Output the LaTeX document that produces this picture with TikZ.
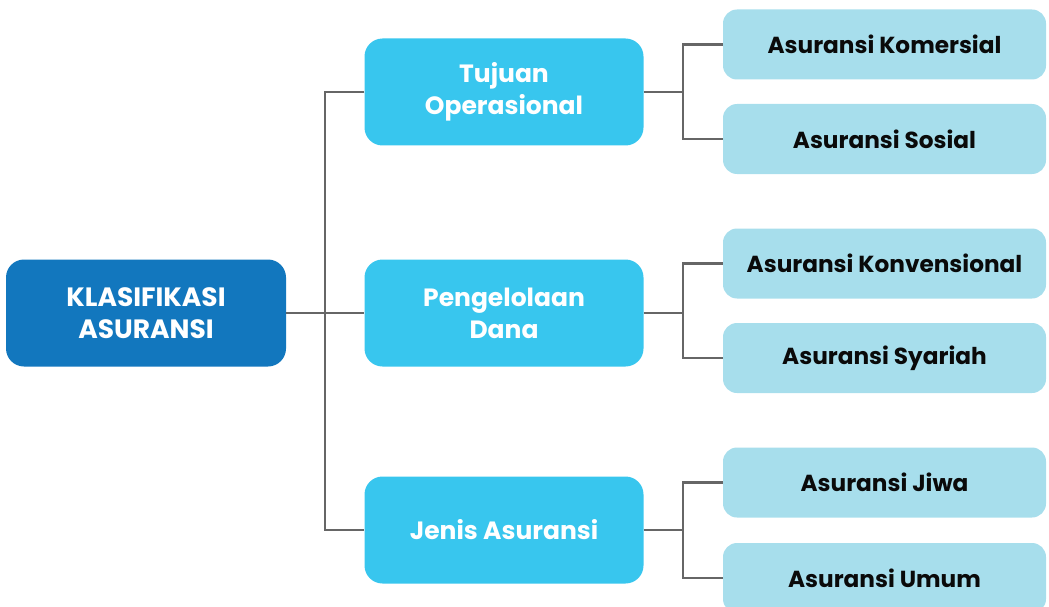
\documentclass[tikz,border=0pt]{standalone}
\usepackage{fontspec}
\setmainfont{Poppins}
\definecolor{rootblue}{HTML}{1277BE}
\definecolor{midblue}{HTML}{38C6EE}
\definecolor{leafblue}{HTML}{A7DEEC}
\definecolor{linkgray}{HTML}{666666}
\definecolor{inkblack}{HTML}{0A0A0A}
\begin{document}
\begin{tikzpicture}[x=1pt,y=-1pt,
  box/.style={rounded corners=18pt, inner sep=0pt, align=center},
  rootbox/.style={box, fill=rootblue, text=white, minimum width=280pt, minimum height=107pt,
    font=\bfseries\fontsize{26.5}{32}\selectfont},
  midbox/.style={box, fill=midblue, text=white, minimum width=279pt, minimum height=107pt,
    font=\bfseries\fontsize{25}{32}\selectfont},
  leafbox/.style={box, rounded corners=14pt, fill=leafblue, text=inkblack, minimum width=323pt, minimum height=70pt,
    font=\bfseries\fontsize{23.2}{28}\selectfont},
  link/.style={draw=linkgray, line width=2.4pt}
]
\useasboundingbox (0,0) rectangle (1049,607);
\begin{scope}
\clip (0,0) rectangle (1049,607);
% root
\node[rootbox] (root) at (146,313) {KLASIFIKASI\\ASURANSI};
% second level
\node[midbox] (m1) at (504,92) {Tujuan\\Operasional};
\node[midbox] (m2) at (504,313) {Pengelolaan\\Dana};
\node[midbox] (m3) at (504,530) {Jenis Asuransi};
% leaves
\node[leafbox] (l1) at (884.5,44.5) {Asuransi Komersial};
\node[leafbox] (l2) at (884.5,139) {Asuransi Sosial};
\node[leafbox] (l3) at (884.5,263.5) {Asuransi Konvensional};
\node[leafbox] (l4) at (884.5,358) {Asuransi Syariah};
\node[leafbox] (l5) at (884.5,482.5) {Asuransi Jiwa};
\node[leafbox] (l6) at (884.5,578) {Asuransi Umum};
% connectors
\coordinate (j0) at (325,313);
\draw[link] (root.east) -- (j0);
\draw[link] (m1.west) -| (j0) |- (m3.west);
\draw[link] (j0) -- (m2.west);
\foreach \m/\a/\b in {m1/l1/l2, m2/l3/l4, m3/l5/l6}{
  \coordinate (j\m) at ([xshift=39pt]\m.east);
  \draw[link] (\m.east) -- (j\m);
  \draw[link] (\a.west) -| (j\m) |- (\b.west);
}
\end{scope}
\end{tikzpicture}
\end{document}
